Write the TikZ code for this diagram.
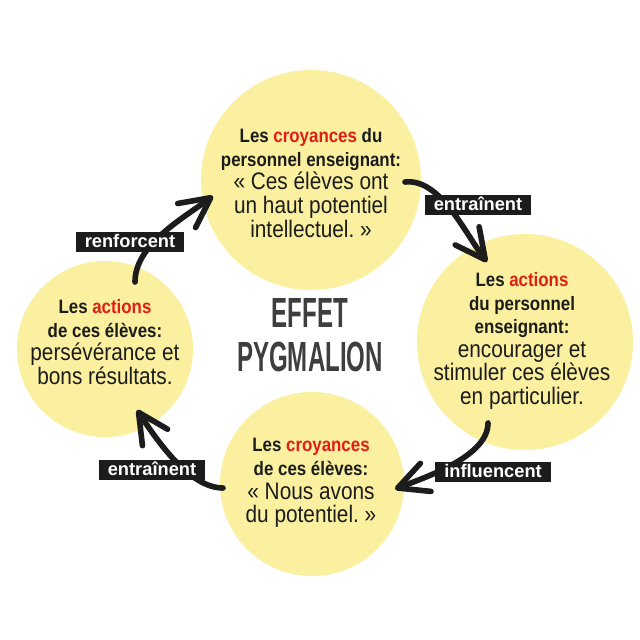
\documentclass[tikz,border=0pt]{standalone}
\usepackage{fontspec}
\setmainfont{Liberation Sans}[FakeStretch=0.87]
\newfontfamily\etiqfont{Liberation Sans}
\newfontfamily\titrefont{Liberation Sans}[FakeStretch=0.57]
\usepackage{xcolor}
\usepackage{tikz}
\usetikzlibrary{calc,arrows.meta}
\definecolor{jaune}{RGB}{250,240,160}
\definecolor{rouge}{RGB}{226,30,20}
\definecolor{encre}{RGB}{28,28,28}
\newcommand{\gras}[1]{{\bfseries\fontsize{13.8}{16.8}\selectfont #1}}
\newcommand{\rouge}[1]{\textcolor{rouge}{#1}}

\begin{document}
\begin{tikzpicture}[x=0.025cm,y=-0.025cm,
			bulle/.style={circle,fill=jaune,inner sep=0pt},
			texte/.style={align=center,text=encre,font=\fontsize{17}{16.8}\selectfont},
			fleche/.style={draw=encre,line width=4pt,line cap=round,
				-{Straight Barb[length=7.5mm,width=7.5mm,round]}},
			etiquette/.style={fill=encre,text=white,font=\etiqfont\bfseries\fontsize{13}{13}\selectfont,
				inner xsep=6.5pt,inner ysep=2pt,text height=9.4pt,text depth=1.5pt},
			]
			% 画布
			\fill[white] (0,0) rectangle (640,640);
			\useasboundingbox (0,0) rectangle (640,640);
			
			% 四个圆
			\node[bulle,minimum size=5.5cm] (croyEns) at (311,180) {};
			\node[bulle,minimum size=5.4cm] (actEns) at (525,342) {};
			\node[bulle,minimum size=4.6cm] (croyEl) at (312,484) {};
			\node[bulle,minimum size=4.4cm] (actEl) at (105,349) {};
			
			% 文字
			\node[texte] (txtCroyEns) at (311,183) {\gras{Les \rouge{croyances} du}\\
				\gras{personnel enseignant:}\\
				«~Ces élèves ont\\
				un haut potentiel\\
				intellectuel.~»};
			\node[texte] (txtActEns) at (522,341) {\gras{Les \rouge{actions}}\\
				\gras{du personnel}\\
				\gras{enseignant:}\\
				encourager et\\
				stimuler ces élèves\\
				en particulier.};
			\node[texte] (txtCroyEl) at (311,483) {\gras{Les \rouge{croyances}}\\
				\gras{de ces élèves:}\\
				«~Nous avons\\
				du potentiel.~»};
			\node[texte] (txtActEl) at (105,342) {\gras{Les \rouge{actions}}\\
				\gras{de ces élèves:}\\
				persévérance et\\
				bons résultats.};
			
			% 标题
			\node[align=center,text=encre!85,font=\titrefont\bfseries\fontsize{30}{31}\selectfont]
			(titre) at (310,335) {EFFET\\PYGMALION};
			
			% 箭头端点
			\coordinate (d1) at ($(croyEns)+(94,2)$);
			\coordinate (f1) at ($(actEns)+(-38,-80)$);
			\coordinate (d2) at ($(actEns)+(-37,81)$);
			\coordinate (f2) at ($(croyEl)+(83,5)$);
			\coordinate (d3) at ($(croyEl)+(-89,4)$);
			\coordinate (f3) at ($(actEl)+(32,61)$);
			\coordinate (d4) at ($(actEl)+(30,-67)$);
			\coordinate (f4) at ($(croyEns)+(-98,16)$);
			
			% 箭头
			\draw[fleche] (d1) .. controls +(35,-4) and +(-22,-29) .. (f1);
			\draw[fleche] (d2) .. controls +(0,32) and +(37,-14) .. (f2);
			\draw[fleche] (d3) .. controls +(-33,0) and +(21,32) .. (f3);
			\draw[fleche] (d4) .. controls +(0,-37) and +(-31,23) .. (f4);
			
			% 标签
			\node[etiquette] (entrA) at (478,205) {entraînent};
			\node[etiquette] (influ) at (493,472) {influencent};
			\node[etiquette] (entrB) at (152,470) {entraînent};
			\node[etiquette] (renf) at (130,242) {renforcent};
		\end{tikzpicture}
\end{document}
